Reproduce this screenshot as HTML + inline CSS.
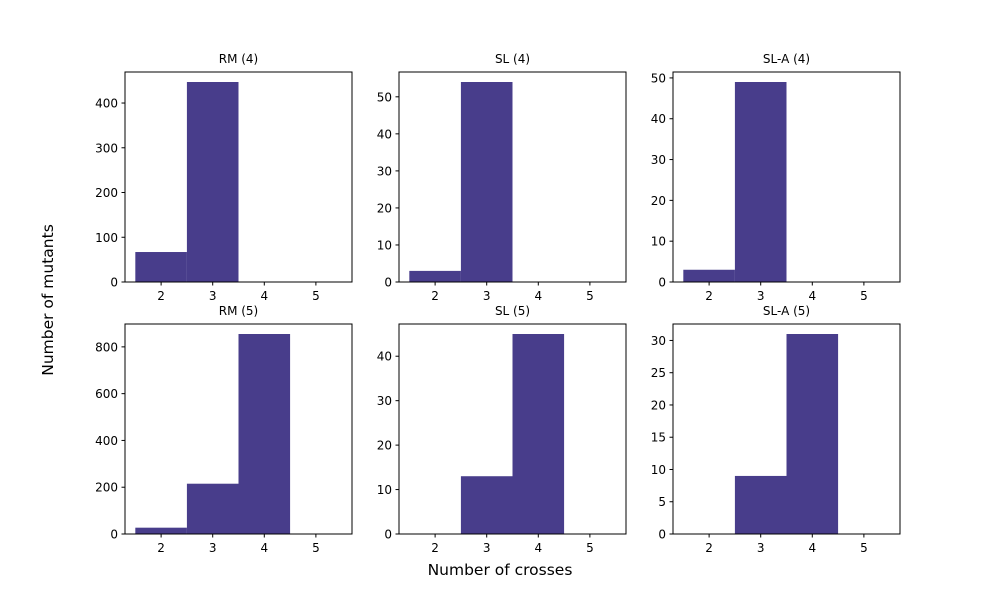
<!DOCTYPE html>
<html><head><meta charset="utf-8"><style>
body{margin:0;background:#fff}
svg text{font-family:"DejaVu Sans","Liberation Sans",sans-serif;fill:#000}
</style></head><body>
<svg id="s" width="1000" height="600" xmlns="http://www.w3.org/2000/svg"></svg>
<script>
const s=document.getElementById('s');let h='';
const cols=[125,399,673],W=227,rows=[72,324],H=210;
const P=[
 {t:'RM (4)',b:[[2,67],[3,447]],m:447,tk:[0,100,200,300,400]},
 {t:'SL (4)',b:[[2,3],[3,54]],m:54,tk:[0,10,20,30,40,50]},
 {t:'SL-A (4)',b:[[2,3],[3,49]],m:49,tk:[0,10,20,30,40,50]},
 {t:'RM (5)',b:[[2,27],[3,215],[4,855]],m:855,tk:[0,200,400,600,800]},
 {t:'SL (5)',b:[[3,13],[4,45]],m:45,tk:[0,10,20,30,40]},
 {t:'SL-A (5)',b:[[3,9],[4,31]],m:31,tk:[0,5,10,15,20,25,30]}];
P.forEach((p,i)=>{
 const x0=cols[i%3],y0=rows[Math.floor(i/3)],L=p.m*1.05;
 const X=v=>x0+(v-1.3)/4.4*W,Y=v=>y0+H-v/L*H;
 p.b.forEach(([c,v])=>{h+=`<rect x="${X(c-.5)}" y="${Y(v)}" width="${X(c+.5)-X(c-.5)}" height="${y0+H-Y(v)}" fill="#483D8B"/>`;});
 h+=`<rect x="${x0}" y="${y0}" width="${W}" height="${H}" fill="none" stroke="#000" stroke-width="1"/>`;
 [2,3,4,5].forEach(t=>{const x=X(t);h+=`<line x1="${x}" x2="${x}" y1="${y0+H}" y2="${y0+H+3.5}" stroke="#000"/><text x="${x}" y="${y0+H+18}" font-size="12" text-anchor="middle">${t}</text>`;});
 p.tk.forEach(t=>{const y=Y(t);h+=`<line x1="${x0-3.5}" x2="${x0}" y1="${y}" y2="${y}" stroke="#000"/><text x="${x0-7}" y="${y+4.5}" font-size="12" text-anchor="end">${t}</text>`;});
 h+=`<text x="${x0+W/2}" y="${y0-9}" font-size="12" text-anchor="middle">${p.t}</text>`;
});
h+=`<text x="500" y="575" font-size="15.5" text-anchor="middle">Number of crosses</text>`;
h+=`<text transform="translate(53,300) rotate(-90)" font-size="15.5" text-anchor="middle">Number of mutants</text>`;
s.innerHTML=h;
</script>
</body></html>
